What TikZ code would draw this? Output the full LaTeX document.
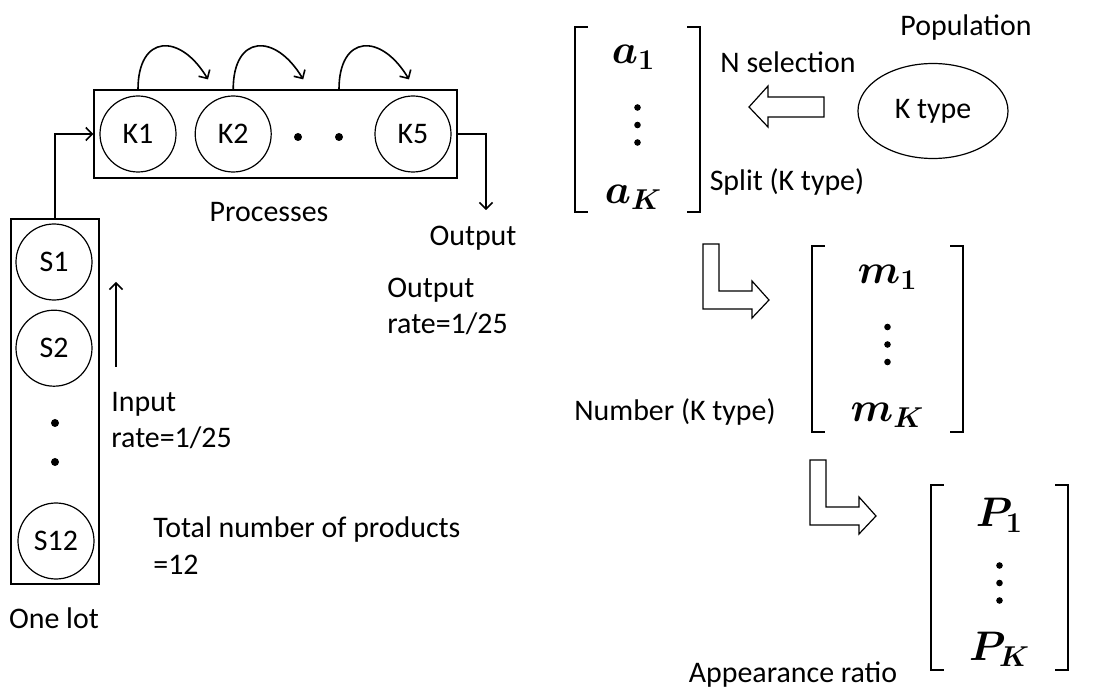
\documentclass[tikz,border=0pt]{standalone}
\usepackage{amsmath}
\usepackage{fontspec}
\setmainfont{Carlito}
\usetikzlibrary{fit,positioning,shapes.geometric,arrows.meta}

\begin{document}
\begin{tikzpicture}[x=0.5bp, y=-0.5bp, font=\fontsize{15}{18.5}\selectfont]
	\tikzstyle{main}=[circle, minimum size = 38bp, inner sep=0pt, draw =black, line width=0.6bp]
	\tikzstyle{connect}=[-{Straight Barb[length=3.2bp,width=6.5bp]}, line width=0.8bp]
	\tikzstyle{box}=[rectangle, draw=black, line width=1bp]
	\tikzstyle{bullet}=[circle, fill=black, inner sep=0pt, minimum size=4bp]
	\tikzstyle{vdot}=[circle, fill=black, inner sep=0pt, minimum size=3.3bp]
	\tikzstyle{txt}=[align=left, inner sep=0pt]
	\tikzstyle{vec}=[rectangle, inner sep=0pt]
	\tikzstyle{entry}=[inner sep=0pt, font=\fontsize{22}{26}\selectfont\boldmath]
	\tikzstyle{brk}=[line width=1bp]
	\tikzstyle{hollow}=[draw=black, line width=0.6bp, fill=white, line join=miter]
	\useasboundingbox (0,0) rectangle (1104,693);
	% processes
	\node[main] (k1) at (138,134) [label=center:K1] { };
	\node[main] (k2) [right=9bp of k1, label=center:K2] { };
	\node[bullet] (kd1) at (298,137) {};
	\node[bullet] (kd2) at (339,137) {};
	\node[main] (k5) at (413,134) [label=center:K5] { };
	\node[box, inner sep=2.5bp, fit= (k1)(k2)(k5)] (proc) {};
	\foreach \s in {k1,k2,kd2}
		\draw[connect] (proc.north -| \s) .. controls +(0,-55) and +(-28,-47) .. ([xshift=35bp, yshift=5bp]proc.north -| \s);
	\node (proclab) at (269,212) {Processes};
	\coordinate (outend) at (486,210);
	\node (outlab) at (473,238) {Output};
	% one lot
	\node[main] (s1) at (54,262) [label=center:S1] { };
	\node[main] (s2) [below=4.5bp of s1, label=center:S2] { };
	\node[bullet] (sd1) at (55,423) {};
	\node[bullet] (sd2) at (55,462) {};
	\node[main] (s12) at (56,541) [label=center:S12] { };
	\node[box, inner sep=2bp, fit= (s1)(s2)(s12)] (lot) {};
	\node (lotlab) at (54,618) {One lot};
	\path (lot.north) edge [connect, to path={|- (\tikztotarget)}] (proc.west)
	(proc.east) edge [connect, to path={-| (\tikztotarget)}] (outend);
	% rates
	\coordinate (inlow) at (116,367);
	\coordinate (inhigh) at (116,282);
	\draw[connect] (inlow) -- (inhigh);
	\node[txt, anchor=west] (inrate) at (111,420.5) {Input\\rate=1/25};
	\node[txt, anchor=west] (outrate) at (387,306.5) {Output\\rate=1/25};
	\node[txt, anchor=west] (total) at (153,545.5) {Total number of products\\=12};
	% population and vectors
	\node[ellipse, draw, line width=0.6bp, minimum width=75bp, minimum height=47.5bp] (pop) at (933,111) {K type};
	\node (poplab) at (966,28) {Population};
	\node (sellab) at (788,62) {N selection};
	\node (splitlab) at (787,182) {Split (K type)};
	\draw[hollow] (749,107) -- (768,86) -- (768,97) -- (824,97) -- (824,117) -- (768,117) -- (768,127) -- cycle;
	\node[vec, minimum width=62.5bp, minimum height=92.5bp] (avec) at (637.5,119.5) {};
	\node[vec, minimum width=75.5bp, minimum height=93bp] (mvec) at (887.5,339) {};
	\node[vec, minimum width=68.5bp, minimum height=92.5bp] (pvec) at (999.5,577.5) {};
	\node[entry] (a1) at ([xshift=-2bp, yshift=31bp]avec.center) {$a_1$};
	\node[entry] (ak) at ([xshift=-2bp, yshift=-39bp]avec.center) {$a_K$};
	\node[entry] (m1) at ([yshift=31bp]mvec.center) {$m_1$};
	\node[entry] (mk) at ([yshift=-38bp]mvec.center) {$m_K$};
	\node[entry] (p1) at ([yshift=31bp]pvec.center) {$P_1$};
	\node[entry] (pk) at ([yshift=-36bp]pvec.center) {$P_K$};
	\foreach \v in {avec,mvec,pvec} {
		\foreach \d/\i in {6/1,-2.75/2,-11.5/3}
			\node[vdot] (\v\i) at ([yshift=\d bp]\v.center) {};
		\draw[brk] ([xshift=6.5bp]\v.north west) -| (\v.south west) -- ([xshift=6.5bp]\v.south west);
		\draw[brk] ([xshift=-6.5bp]\v.north east) -| (\v.south east) -- ([xshift=-6.5bp]\v.south east);
	}
	\foreach \dx/\dy in {0/0, 107/216}
		\draw[hollow, shift={(\dx,\dy)}] (703,244) -- (719,244) -- (719,291) -- (752,291) -- (752,281) -- (769,300) -- (752,318) -- (752,309) -- (703,309) -- cycle;
	\node (numlab) at (675,412) {Number (K type)};
	\node (ratiolab) at (793,675) {Appearance ratio};
\end{tikzpicture}
\end{document}
